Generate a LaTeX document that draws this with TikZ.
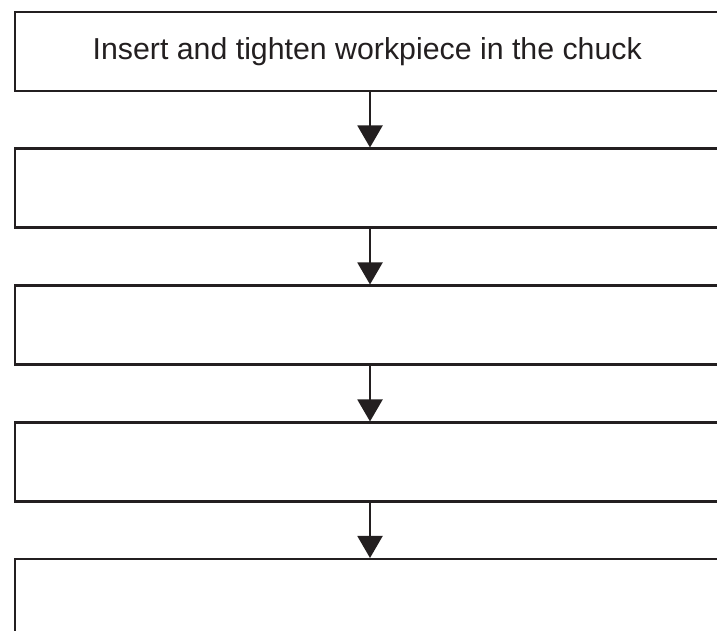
\documentclass[tikz,border=0pt]{standalone}
\usepackage{fontspec}
\setmainfont{Liberation Sans}
\usetikzlibrary{arrows.meta}
\definecolor{ink}{HTML}{231F20}
\begin{document}
\begin{tikzpicture}[x=1pt,y=1pt,
  stepbox/.style={draw=ink, line width=2.5pt, minimum width=705pt, minimum height=79pt,
    inner sep=0pt, anchor=north west, font=\fontsize{30.3}{36}\selectfont, text=ink},
  flowarrow/.style={draw=ink, line width=2pt, -{Triangle[width=25pt,length=22pt]}}]
\clip (0,0) rectangle (717,631);
\fill[white] (0,0) rectangle (717,631);
\node[stepbox] (b1) at (13.5,620) {Insert and tighten workpiece in the chuck};
\node[stepbox] (b2) at (13.5,483.5) {};
\node[stepbox] (b3) at (13.5,346.5) {};
\node[stepbox] (b4) at (13.5,209.5) {};
\node[stepbox] (b5) at (13.5,73) {};
\coordinate (a1s) at (370,0 |- b1.south);
\coordinate (a2s) at (370,0 |- b2.south);
\coordinate (a3s) at (370,0 |- b3.south);
\coordinate (a4s) at (370,0 |- b4.south);
\draw[flowarrow] (a1s) -- (a1s |- b2.north);
\draw[flowarrow] (a2s) -- (a2s |- b3.north);
\draw[flowarrow] (a3s) -- (a3s |- b4.north);
\draw[flowarrow] (a4s) -- (a4s |- b5.north);
\end{tikzpicture}
\end{document}
